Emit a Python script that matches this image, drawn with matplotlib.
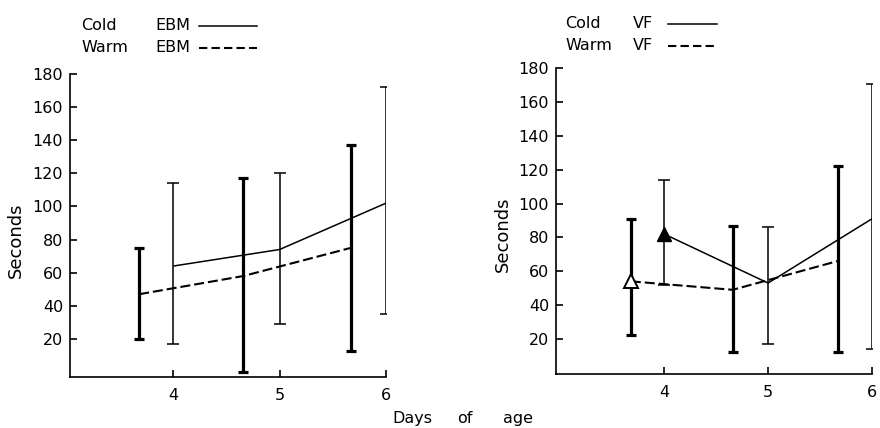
import matplotlib
matplotlib.use("Agg")
import matplotlib.pyplot as plt
from matplotlib.lines import Line2D
import numpy as np

# ---- data ----
cold_days = [4, 5, 6]
warm_days = [3.68, 4.66, 5.67]

ebm_cold_mean = [64, 74, 102]
ebm_cold_low = [17, 29, 35]
ebm_cold_high = [114, 120, 172]
ebm_warm_mean = [47, 58, 75]
ebm_warm_low = [20, 0, 13]
ebm_warm_high = [75, 117, 137]

vf_cold_mean = [82, 53, 91]
vf_cold_low = [52, 17, 14]
vf_cold_high = [114, 86, 171]
vf_warm_mean = [54, 49, 66]
vf_warm_low = [22, 12, 12]
vf_warm_high = [91, 87, 122]

x_ticks = [4, 5, 6]
y_ticks = [20, 40, 60, 80, 100, 120, 140, 160, 180]

plt.rcParams['font.family'] = ['DejaVu Sans']
FS = 11.5
W, H = 880, 428
fig = plt.figure(figsize=(W / 100, H / 100), dpi=100)


def fx(px):
    return px / W


def fy(py):
    return 1 - py / H


def panel(ax, cm, cl, ch, wm, wl, wh, xlim, ylim):
    cm, cl, ch = map(np.array, (cm, cl, ch))
    wm, wl, wh = map(np.array, (wm, wl, wh))
    ax.errorbar(cold_days, cm, yerr=[cm - cl, ch - cm], fmt='none',
                ecolor='black', elinewidth=1.1, capsize=4.5, capthick=1.1)
    ax.errorbar(warm_days, wm, yerr=[wm - wl, wh - wm], fmt='none',
                ecolor='black', elinewidth=2.3, capsize=3.8, capthick=2.3)
    ax.plot(cold_days, cm, color='black', lw=1.1, solid_capstyle='butt')
    ax.plot(warm_days, wm, color='black', lw=1.5, dashes=(4.8, 1.9))
    ax.set_xlim(*xlim)
    ax.set_ylim(*ylim)
    ax.set_xticks(x_ticks)
    ax.set_yticks(y_ticks)
    ax.tick_params(direction='in', length=5, width=1.2, labelsize=FS,
                   colors='black')
    ax.tick_params(axis='x', pad=8)
    ax.tick_params(axis='y', pad=5)
    for s in ('top', 'right'):
        ax.spines[s].set_visible(False)
    for s in ('left', 'bottom'):
        ax.spines[s].set_linewidth(1.2)
    ax.set_facecolor('none')


# left panel
ax1 = fig.add_axes([fx(70), fy(377), fx(386 - 70), fy(74) - fy(377)])
panel(ax1, ebm_cold_mean, ebm_cold_low, ebm_cold_high,
      ebm_warm_mean, ebm_warm_low, ebm_warm_high, (3.03, 6.0), (-3, 180))
ax1.set_ylabel('Seconds', fontsize=13)
ax1.yaxis.set_label_coords(-0.142, 0.452)

# right panel
ax2 = fig.add_axes([fx(556), fy(373.5), fx(872 - 556), fy(68.3) - fy(373.5)])
panel(ax2, vf_cold_mean, vf_cold_low, vf_cold_high,
      vf_warm_mean, vf_warm_low, vf_warm_high, (2.96, 6.0), (-0.5, 180))
ax2.plot(cold_days[0], vf_cold_mean[0], marker='^', ms=10, color='black',
         mec='black', zorder=5)
ax2.plot(warm_days[0], vf_warm_mean[0], marker='^', ms=10, mfc='white',
         mec='black', mew=1.4, zorder=5)
ax2.set_ylabel('Seconds', fontsize=13)
ax2.yaxis.set_label_coords(-0.139, 0.457)

# legend-like keys
def key(x_word, x_grp, x_l0, x_l1, y1, y2, grp):
    fig.text(fx(x_word), fy(y1), 'Cold', fontsize=FS, va='center', ha='left')
    fig.text(fx(x_word), fy(y2), 'Warm', fontsize=FS, va='center', ha='left')
    fig.text(fx(x_grp), fy(y1), grp, fontsize=FS, va='center', ha='left')
    fig.text(fx(x_grp), fy(y2), grp, fontsize=FS, va='center', ha='left')
    fig.add_artist(Line2D([fx(x_l0), fx(x_l1)], [fy(y1 + 1), fy(y1 + 1)],
                          color='black', lw=1.1, transform=fig.transFigure))
    fig.add_artist(Line2D([fx(x_l0), fx(x_l1)], [fy(y2 + 1), fy(y2 + 1)],
                          color='black', lw=1.5, dashes=(4, 2),
                          transform=fig.transFigure))

key(81, 155, 199, 257, 25, 47, 'EBM')
key(565, 633, 668, 717, 23, 45, 'VF')

for word, xp in (('Days', 392), ('of', 457), ('age', 503)):
    fig.text(fx(xp), fy(423), word, fontsize=FS, va='baseline', ha='left')

fig.savefig('out.png', dpi=100, facecolor='white')
